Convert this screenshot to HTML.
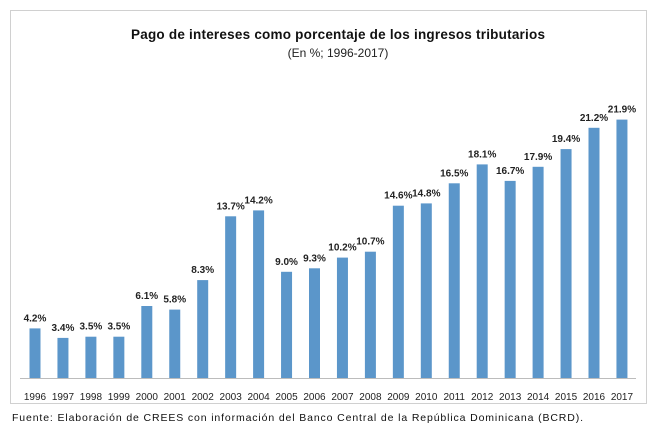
<!DOCTYPE html>
<html><head><meta charset="utf-8"><style>
html,body{margin:0;padding:0;background:#fff;}
svg{display:block;font-family:"Liberation Sans",sans-serif;}
</style></head><body>
<svg width="657" height="432" viewBox="0 0 657 432" xmlns="http://www.w3.org/2000/svg">
<rect x="10.5" y="10.5" width="636" height="393" fill="#fff" stroke="#d0d0d0" stroke-width="1"/>
<text x="338" y="39" text-anchor="middle" font-size="13.5" font-weight="bold" fill="#111" textLength="414">Pago de intereses como porcentaje de los ingresos tributarios</text>
<text x="338" y="57" text-anchor="middle" font-size="12" fill="#222">(En %; 1996-2017)</text>
<line x1="20" y1="378.5" x2="636" y2="378.5" stroke="#bcbcbc" stroke-width="1"/>
<g fill="#5b96ca">
<rect x="29.5" y="328.4" width="11" height="49.6"/>
<rect x="57.45" y="337.9" width="11" height="40.1"/>
<rect x="85.4" y="336.7" width="11" height="41.3"/>
<rect x="113.35" y="336.7" width="11" height="41.3"/>
<rect x="141.3" y="306.0" width="11" height="72"/>
<rect x="169.25" y="309.6" width="11" height="68.4"/>
<rect x="197.2" y="280.1" width="11" height="97.9"/>
<rect x="225.15" y="216.3" width="11" height="161.7"/>
<rect x="253.1" y="210.4" width="11" height="167.6"/>
<rect x="281.05" y="271.8" width="11" height="106.2"/>
<rect x="309" y="268.3" width="11" height="109.7"/>
<rect x="336.95" y="257.6" width="11" height="120.4"/>
<rect x="364.9" y="251.7" width="11" height="126.3"/>
<rect x="392.85" y="205.7" width="11" height="172.3"/>
<rect x="420.8" y="203.4" width="11" height="174.6"/>
<rect x="448.75" y="183.3" width="11" height="194.7"/>
<rect x="476.7" y="164.4" width="11" height="213.6"/>
<rect x="504.65" y="180.9" width="11" height="197.1"/>
<rect x="532.6" y="166.8" width="11" height="211.2"/>
<rect x="560.55" y="149.1" width="11" height="228.9"/>
<rect x="588.5" y="127.8" width="11" height="250.2"/>
<rect x="616.45" y="119.6" width="11" height="258.4"/>
</g>
<g font-size="10" font-weight="bold" fill="#222" text-anchor="middle">
<text x="35" y="321.4">4.2%</text>
<text x="62.95" y="330.9">3.4%</text>
<text x="90.9" y="329.7">3.5%</text>
<text x="118.85" y="329.7">3.5%</text>
<text x="146.8" y="299">6.1%</text>
<text x="174.75" y="302.6">5.8%</text>
<text x="202.7" y="273.1">8.3%</text>
<text x="230.65" y="209.3">13.7%</text>
<text x="258.6" y="203.4">14.2%</text>
<text x="286.55" y="264.8">9.0%</text>
<text x="314.5" y="261.3">9.3%</text>
<text x="342.45" y="250.6">10.2%</text>
<text x="370.4" y="244.7">10.7%</text>
<text x="398.35" y="198.7">14.6%</text>
<text x="426.3" y="196.4">14.8%</text>
<text x="454.25" y="176.3">16.5%</text>
<text x="482.2" y="157.4">18.1%</text>
<text x="510.15" y="173.9">16.7%</text>
<text x="538.1" y="159.8">17.9%</text>
<text x="566.05" y="142.1">19.4%</text>
<text x="594" y="120.8">21.2%</text>
<text x="621.95" y="112.6">21.9%</text>
</g>
<g font-size="10" fill="#222" text-anchor="middle">
<text x="35" y="400">1996</text><text x="62.95" y="400">1997</text><text x="90.9" y="400">1998</text><text x="118.85" y="400">1999</text><text x="146.8" y="400">2000</text><text x="174.75" y="400">2001</text><text x="202.7" y="400">2002</text><text x="230.65" y="400">2003</text><text x="258.6" y="400">2004</text><text x="286.55" y="400">2005</text><text x="314.5" y="400">2006</text><text x="342.45" y="400">2007</text><text x="370.4" y="400">2008</text><text x="398.35" y="400">2009</text><text x="426.3" y="400">2010</text><text x="454.25" y="400">2011</text><text x="482.2" y="400">2012</text><text x="510.15" y="400">2013</text><text x="538.1" y="400">2014</text><text x="566.05" y="400">2015</text><text x="594" y="400">2016</text><text x="621.95" y="400">2017</text>
</g>
<text x="12" y="421" font-size="10.5" fill="#111" textLength="571">Fuente: Elaboración de CREES con información del Banco Central de la República Dominicana (BCRD).</text>
</svg>
</body></html>
